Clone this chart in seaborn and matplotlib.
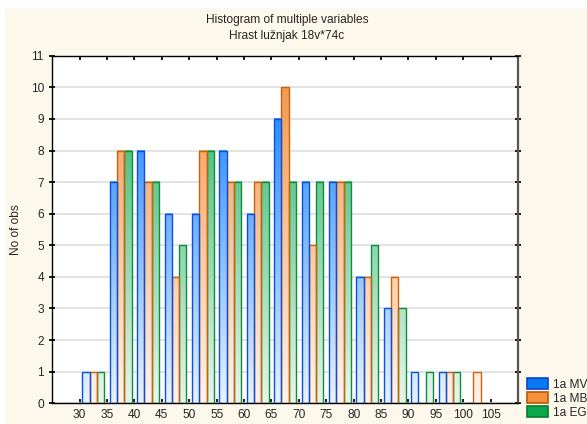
import numpy as np
import pandas as pd
import matplotlib
matplotlib.use("Agg")
import matplotlib.pyplot as plt
import seaborn as sns
from matplotlib.colors import LinearSegmentedColormap
from matplotlib.patches import Patch, Rectangle

# --- dados (contagem por classe de 5) ---
bin_left = [30, 35, 40, 45, 50, 55, 60, 65, 70, 75, 80, 85, 90, 95, 100]
mv = [1, 7, 8, 6, 6, 8, 6, 9, 7, 7, 4, 3, 1, 1, 0]
mb = [1, 8, 7, 4, 8, 7, 7, 10, 5, 7, 4, 4, 0, 1, 1]
eg = [1, 8, 7, 5, 8, 7, 7, 7, 7, 7, 5, 3, 1, 1, 0]
series = ['1a MV', '1a MB', '1a EG']
xticks = list(range(30, 110, 5))

title_1 = 'Histogram of multiple variables'
title_2 = 'Hrast lužnjak 18v*74c'

cream = '#fdf8ec'
light = ['#e8f3ff', '#fff3ea', '#e6f6ec']
dark = ['#1a82ff', '#f59a52', '#2cb86a']
edges = ['#0a50d8', '#c8620c', '#138a3c']
legend_face = ['#0a78f0', '#f5913c', '#0aa84a']
legend_edge = ['#0a46c8', '#b8580a', '#0a7a30']
fs = 8.6

sns.set_theme(style="white")
plt.rcParams['font.family'] = ['Liberation Sans', 'DejaVu Sans']

df = pd.DataFrame({
    'x': np.tile(np.array(bin_left) + 2.5, 3),
    'n': mv + mb + eg,
    'var': np.repeat(series, len(bin_left)),
})

fig = plt.figure(figsize=(5.87, 4.24), dpi=100, facecolor=cream)
# faixa branca no topo/esquerda como no original
fig.patches.append(Rectangle((0, 1 - 8 / 424), 1, 8 / 424, transform=fig.transFigure,
                             facecolor='white', edgecolor='none', zorder=-1))
fig.patches.append(Rectangle((0, 0), 5 / 587, 1, transform=fig.transFigure,
                             facecolor='white', edgecolor='none', zorder=-1))

ax = fig.add_axes([0.089, 0.049, 0.7935, 0.8195])
ax.set_facecolor('white')

sns.histplot(data=df, x='x', weights='n', hue='var', hue_order=series,
             binwidth=5, binrange=(30, 105), multiple='dodge', shrink=0.8,
             palette=dict(zip(series, dark)), legend=False, ax=ax)

ymax = 11
bw = 5 * 0.8 / 3
for p in list(ax.patches):
    x0 = p.get_x()
    h = p.get_height()
    w = p.get_width()
    k = int(round(((x0 - 30) % 5 - 0.5) / bw))
    k = min(max(k, 0), 2)
    p.set_facecolor('none')
    p.set_edgecolor(edges[k])
    p.set_linewidth(1.0)
    p.set_alpha(1)
    p.set_zorder(3)
    if h > 0:
        # gradiente pelo eixo y (claro embaixo, escuro em cima)
        cmap = LinearSegmentedColormap.from_list('g%d' % k, [light[k], dark[k]])
        grad = np.linspace(h, 0, 100).reshape(-1, 1)
        ax.imshow(grad, cmap=cmap, vmin=0, vmax=10, aspect='auto',
                  extent=[x0, x0 + w, 0, h], zorder=2, interpolation='bilinear')

ax.set_xlim(25, 110)
ax.set_ylim(0, ymax)
ax.set_xticks(xticks)
ax.set_yticks(range(0, 12))
ax.yaxis.grid(True, color='#dedede', linewidth=1.2)
ax.set_axisbelow(True)
ax.tick_params(axis='x', direction='in', length=3, top=True, bottom=True,
               labelsize=fs, pad=4, color='black')
ax.tick_params(axis='y', direction='inout', length=4, left=True, right=True,
               labelsize=fs, pad=4, color='black')
for s in ['left', 'top', 'bottom']:
    ax.spines[s].set_color('black')
    ax.spines[s].set_linewidth(1.0)
ax.spines['right'].set_color('#555555')
ax.spines['right'].set_linewidth(1.6)

ax.set_xlabel('')
ax.set_ylabel('No of obs', fontsize=fs, labelpad=6)

fig.text(0.489, 0.953, title_1, ha='center', va='center', fontsize=fs)
fig.text(0.489, 0.915, title_2, ha='center', va='center', fontsize=fs)

handles = [Patch(facecolor=legend_face[i], edgecolor=legend_edge[i], linewidth=1.2)
           for i in range(3)]
fig.legend(handles, series, loc='lower left', bbox_to_anchor=(0.884, -0.008),
           frameon=False, fontsize=fs, handlelength=1.7, handleheight=1.05,
           labelspacing=0.12, handletextpad=0.45, borderaxespad=0.3)

fig.savefig('out.png', dpi=100, facecolor=cream)
